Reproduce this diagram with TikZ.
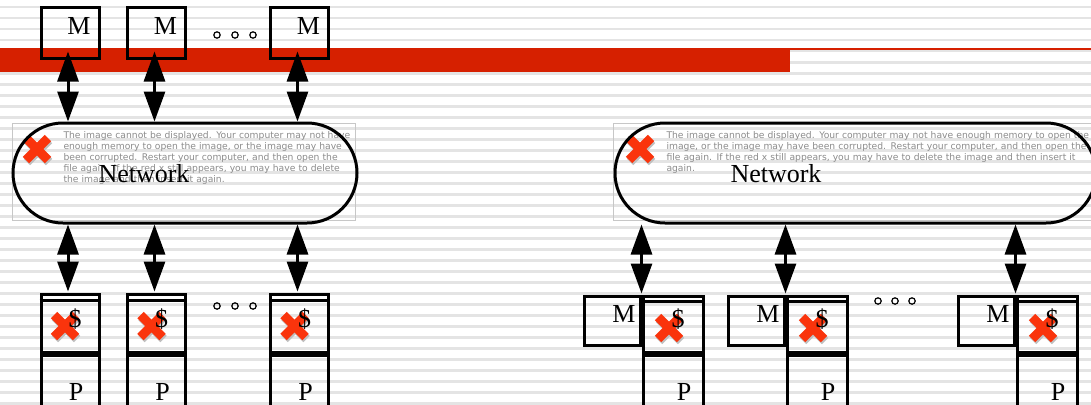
\documentclass[tikz,border=0pt]{standalone}
\usepackage{fontspec}
\setmainfont{Liberation Serif}
\newfontfamily\phfont{DejaVu Sans}
\usetikzlibrary{arrows.meta,calc}
\definecolor{slidered}{RGB}{214,32,0}
\definecolor{stripe}{RGB}{228,228,228}
\definecolor{xred}{RGB}{250,52,12}
\definecolor{phgrey}{RGB}{140,140,140}
\newcommand\redcross[1]{%
  \draw[black!25,line width=9pt] ($(#1)+(-10,-9)$) -- ($(#1)+(12,13)$);
  \draw[black!25,line width=9pt] ($(#1)+(-10,13)$) -- ($(#1)+(12,-9)$);
  \draw[xred,line width=9pt] ($(#1)+(-11,-11)$) -- ($(#1)+(11,11)$);
  \draw[xred,line width=9pt] ($(#1)+(-11,11)$) -- ($(#1)+(11,-11)$);}

\begin{document}
\begin{tikzpicture}[x=1pt,y=-1pt,line width=3pt,
  box/.style={draw,rectangle,inner sep=0pt,minimum width=58pt},
  net/.style={draw,rectangle,inner sep=0pt,rounded corners=50pt,minimum height=100pt,line width=3pt},
  lbl/.style={anchor=base,inner sep=0pt,font=\fontsize{26}{26}\selectfont},
  phtext/.style={anchor=base west,inner sep=0pt,text width=440pt,align=left,text=phgrey,
    font=\phfont\fontsize{9.2}{11.2}\selectfont},
  phframe/.style={draw=black!22,line width=0.8pt},
  dbl/.style={{Triangle[length=30pt,width=21pt]}-{Triangle[length=30pt,width=21pt]},line width=3pt}]
  \useasboundingbox (0,0) rectangle (1091,404);
  \fill[white] (0,0) rectangle (1091,404);
  \foreach \k in {0,...,36}
    \fill[stripe] (0,{6+11*\k}) rectangle (1091,{8.5+11*\k});
  \fill[slidered] (0,48) rectangle (790,72);
  \fill[slidered] (790,48) rectangle (1091,50);

  \draw[phframe] (12,123) rectangle (355,220);
  \draw[phframe] (613,123) rectangle (1100,220);
  \node[phtext] (phL) at (62,138) {The image cannot be displayed. Your computer may not have\\
    enough memory to open the image, or the image may have\\
    been corrupted. Restart your computer, and then open the\\
    file again. If the red x still appears, you may have to delete\\
    the image and then insert it again.};
  \node[phtext] (phR) at (665,138) {The image cannot be displayed. Your computer may not have enough memory to open the\\
    image, or the image may have been corrupted. Restart your computer, and then open the\\
    file again. If the red x still appears, you may have to delete the image and then insert it\\
    again.};
  \redcross{37,149}
  \redcross{640,149}

  \node[net,minimum width=344pt] (netL) at (185,173) {};
  \node[net,minimum width=481pt] (netR) at (855.5,173) {};
  \node[lbl] (netLt) at (144,182) {Network};
  \node[lbl] (netRt) at (776,182) {Network};

  % left: memory above the network
  \foreach \i/\x in {1/70,2/156.5,3/299.5} {
    \node[box,minimum height=51pt] (m\i) at (\x,33.5) {};
    \node[lbl] (m\i t) at ($(m\i.center)+(9,1.5)$) {M};
    \draw[dbl] ([xshift=-2pt,yshift=9pt]m\i.south) -- ([xshift=-2pt]m\i.south |- netL.north);
    \node[box,minimum height=58pt] (c\i) at (\x,323) {};
    \draw ([yshift=-8pt]c\i.north west) -- ([yshift=-8pt]c\i.north east);
    \node[box,anchor=north,minimum height=68pt] (p\i) at (c\i.south) {};
    \redcross{$(c\i.center)+(-5,3)$}
    \node[lbl] (c\i t) at ($(c\i.center)+(5,4)$) {\$};
    \node[lbl] (p\i t) at ($(p\i.center)+(6,11)$) {P};
    \draw[dbl] ([xshift=-2pt]c\i.north |- netL.south) -- ([xshift=-2pt,yshift=1pt]c\i.north);
  }

  % right: memory next to each cache
  \foreach \i/\x in {1/673,2/817,3/1047} {
    \node[box,minimum width=60pt,minimum height=56pt] (rc\i) at (\x,324) {};
    \draw ([yshift=-7pt]rc\i.north west) -- ([yshift=-7pt]rc\i.north east);
    \node[box,minimum width=60pt,anchor=north,minimum height=68pt] (rp\i) at (rc\i.south) {};
    \node[box,minimum width=56pt,minimum height=49pt,anchor=north east] (rm\i) at (rc\i.north west) {};
    \node[lbl] (rm\i t) at ($(rm\i.center)+(12,1.5)$) {M};
    \redcross{$(rc\i.center)+(-4,4)$}
    \node[lbl] (rc\i t) at ($(rc\i.center)+(5,3)$) {\$};
    \node[lbl] (rp\i t) at ($(rp\i.center)+(11,11)$) {P};
    \draw[dbl] (rc\i.north west |- netR.south) -- ([yshift=1pt]rc\i.north west);
  }

  \foreach \x in {217,235,253} {
    \draw[line width=1.2pt] (\x,35) circle (3.2pt);
    \draw[line width=1.2pt] (\x,306) circle (3.2pt);
  }
  \foreach \x in {878,895,912}
    \draw[line width=1.2pt] (\x,301) circle (3.2pt);
\end{tikzpicture}
\end{document}
